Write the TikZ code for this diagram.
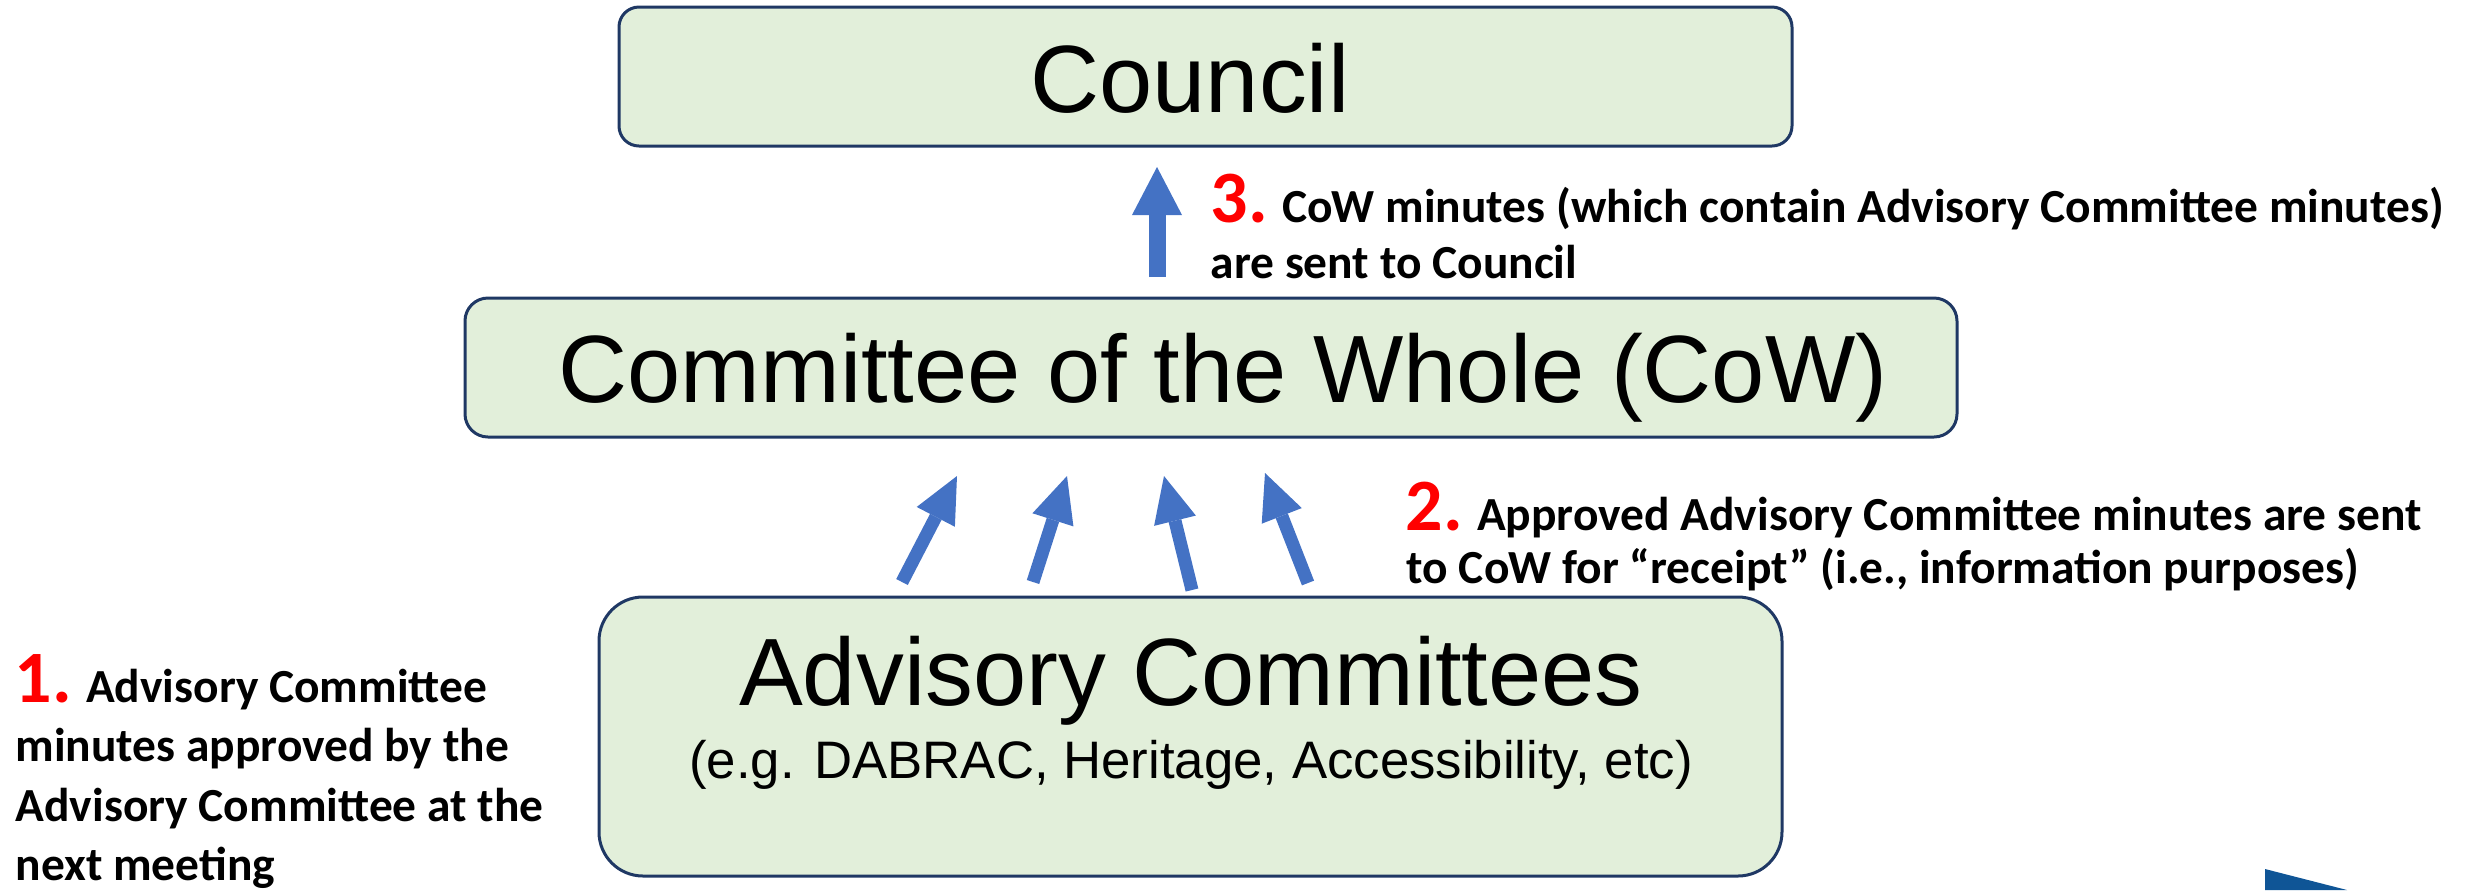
\documentclass[tikz,border=0pt]{standalone}
\usepackage{fontspec}
\setmainfont{Liberation Sans}
\newfontfamily\notefont{Carlito}
\usetikzlibrary{arrows.meta}

\definecolor{boxfill}{HTML}{E2EFDA}
\definecolor{boxline}{HTML}{1F3864}
\definecolor{flowblue}{HTML}{4472C4}
\definecolor{stepred}{HTML}{FF0000}
\definecolor{cornerblue}{HTML}{0F5596}

\newlength{\unitpx}
\setlength{\unitpx}{0.01cm}

\tikzset{
  orgbox/.style={draw=boxline, fill=boxfill, line width=3\unitpx, inner sep=0pt},
  titletext/.style={inner sep=0pt, anchor=base, font=\fontsize{27.2}{30}\selectfont},
  subtext/.style={inner sep=0pt, anchor=base, font=\fontsize{15}{18}\selectfont},
  notetext/.style={inner sep=0pt, anchor=base west, font=\notefont\bfseries\fontsize{13.5}{16}\selectfont},
  flowarrow/.style={draw=flowblue, line width=0.13cm,
    -{Triangle[width=0.43cm, length=0.46cm, line width=0pt]}},
  bigflowarrow/.style={draw=flowblue, line width=0.17cm,
    -{Triangle[width=0.50cm, length=0.48cm, line width=0pt]}}
}
\newcommand{\stepnum}[1]{{\color{stepred}\fontsize{21}{24}\selectfont #1}}

\begin{document}
\begin{tikzpicture}[x=0.01cm, y=-0.01cm]
  \useasboundingbox (0,0) rectangle (2465,890);

  % the three bodies
  \node[orgbox, rounded corners=20\unitpx, minimum width=1173\unitpx, minimum height=139\unitpx]
    (council) at (1205.5,76.5) {};
  \node[orgbox, rounded corners=23\unitpx, minimum width=1492\unitpx, minimum height=139\unitpx]
    (cow) at (1211,367.5) {};
  \node[orgbox, rounded corners=44\unitpx, minimum width=1183\unitpx, minimum height=279\unitpx]
    (adv) at (1190.5,736.5) {};

  % box titles
  \node[titletext] (councilT) at (1190,112) {Council};
  \node[titletext] (cowT) at (1223,402) {Committee of the Whole (CoW)};
  \node[titletext] (advT) at (1191,705) {Advisory Committees};
  \node[subtext] (advS) at (1191,778) {(e.g. DABRAC, Heritage, Accessibility, etc)};

  % arrows from the advisory committees up to CoW
  \coordinate (a1s) at (902,582);  \coordinate (a1e) at (957,476);
  \coordinate (a2s) at (1033,582); \coordinate (a2e) at (1067,476);
  \coordinate (a3s) at (1192,590); \coordinate (a3e) at (1164,476);
  \coordinate (a4s) at (1308,583); \coordinate (a4e) at (1265,473);
  \draw[flowarrow] (a1s) -- (a1e);
  \draw[flowarrow] (a2s) -- (a2e);
  \draw[flowarrow] (a3s) -- (a3e);
  \draw[flowarrow] (a4s) -- (a4e);

  % arrow from CoW up to Council
  \coordinate (tops) at (1157,277); \coordinate (tope) at (1157,167);
  \draw[bigflowarrow] (tops) -- (tope);

  % step notes
  \node[notetext] (n3a) at (1210,222) {\stepnum{3.} CoW minutes (which contain Advisory Committee minutes)};
  \node[notetext] (n3b) at (1210,278) {are sent to Council};

  \node[notetext] (n2a) at (1405,530) {\stepnum{2.} Approved Advisory Committee minutes are sent};
  \node[notetext] (n2b) at (1406,583) {to CoW for “receipt” (i.e., information purposes)};

  \node[notetext] (n1a) at (14,702) {\stepnum{1.} Advisory Committee};
  \node[notetext] (n1b) at (15,761) {minutes approved by the};
  \node[notetext] (n1c) at (15,821) {Advisory Committee at the};
  \node[notetext] (n1d) at (15,880) {next meeting};

  % corner mark
  \fill[cornerblue] (2265,869) -- (2347,890) -- (2265,890) -- cycle;
\end{tikzpicture}
\end{document}
